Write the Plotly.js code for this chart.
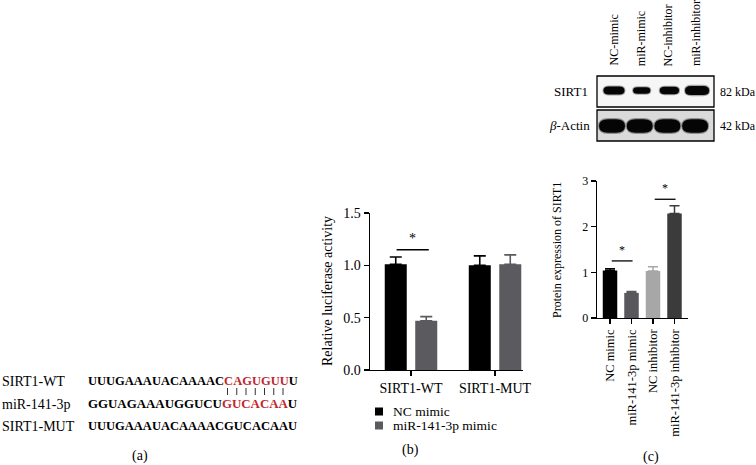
<!DOCTYPE html>
<html><head><meta charset="utf-8">
<script src="https://cdn.plot.ly/plotly-3.0.1.min.js"></script>
<style>html,body{margin:0;padding:0;background:#fff}#chart{width:756px;height:465px}</style>
</head><body><div id="chart"></div>
<script>
// ---------- Panel (b): luciferase ----------
const lucCategories = ['SIRT1-WT', 'SIRT1-MUT'];
const lucSeriesNames = ['NC mimic', 'miR-141-3p mimic'];
const lucNC = [1.01, 1.00];
const lucNCerr = [0.07, 0.09];
const lucMiR = [0.47, 1.01];
const lucMiRerr = [0.04, 0.09];
const lucSigPairs = [[0, 1.15]];           // category index, line level
// ---------- Panel (c): protein expression ----------
const protCategories = ['NC mimic', 'miR-141-3p mimic', 'NC inhibitor', 'miR-141-3p inhibitor'];
const protValues = [1.04, 0.55, 1.03, 2.29];
const protErr = [0.04, 0.03, 0.09, 0.17];
const protSigPairs = [[0, 1, 1.25], [2, 3, 2.6]];
// ---------- Western blot ----------
const blotLanes = ['NC-mimic', 'miR-mimic', 'NC-inhibitor', 'miR-inhibitor'];
const blotRows = ['SIRT1', 'β-Actin'];
const blotKDa = ['82 kDa', '42 kDa'];
const sirt1Band = [1.0, 0.82, 0.92, 1.15];
const actinBand = [1.0, 1.0, 1.0, 1.0];
// ---------- Panel (a): sequences ----------
const seqLabels = ['SIRT1-WT', 'miR-141-3p', 'SIRT1-MUT'];
const seqWT = ['UUUGAAAUACAAAAC', 'CAGUGUU', 'U'];
const seqMiR = ['GGUAGAAAUGGUCU', 'GUCACAA', 'U'];
const seqMUT = ['UUUGAAAUACAAAACGUCACAAU', '', ''];

const W = 756, H = 465;
const px = x => x / W, py = y => 1 - y / H;
const SERIF = 'Liberation Serif, Times New Roman, serif';
const RED = '#c0272d';
const lucColors = ['#000000', '#5a5a5f'];
const protColors = ['#000000', '#57575c', '#a7a7a7', '#3b3b3b'];

const traces = [];
// panel b bars
const lucVals = [lucNC, lucMiR], lucErrs = [lucNCerr, lucMiRerr];
const bw = 0.262, slot = 0.363;
lucSeriesNames.forEach((nm, i) => {
  traces.push({
    type: 'bar', name: nm, x: lucCategories, y: lucVals[i],
    xaxis: 'x', yaxis: 'y', width: bw, offset: (i === 0 ? -slot / 2 : slot / 2) - bw / 2,
    marker: {color: lucColors[i], line: {width: 0}},
    error_y: {type: 'data', symmetric: false, array: lucErrs[i], arrayminus: lucErrs[i].map(() => 0),
      color: lucColors[i], thickness: 1.6, width: 6},
    showlegend: false, hoverinfo: 'skip'
  });
});
// panel c bars
protCategories.forEach((c, i) => {
  traces.push({
    type: 'bar', name: c, x: [c], y: [protValues[i]], xaxis: 'x2', yaxis: 'y2', width: 0.674,
    marker: {color: protColors[i], line: {width: 0}},
    error_y: {type: 'data', symmetric: false, array: [protErr[i]], arrayminus: [0],
      color: protColors[i], thickness: 1.5, width: 5},
    showlegend: false, hoverinfo: 'skip'
  });
});

const shapes = [], annotations = [];
const ann = (o) => annotations.push(Object.assign({xref: 'paper', yref: 'paper', showarrow: false,
  font: {family: SERIF, size: 14, color: '#000'}}, o));

// ---- panel a
const seqRows = [seqWT, seqMiR, seqMUT];
const seqY = [381, 404, 426];
const seqSize = [12.5, 12.9, 12.5];
seqLabels.forEach((l, i) => {
  ann({x: px(0), y: py(seqY[i]), xanchor: 'left', yanchor: 'middle', text: l});
  const s = seqRows[i];
  const txt = '<b>' + s[0] + (s[1] ? '<span style="color:' + RED + '">' + s[1] + '</span>' : '') + s[2] + '</b>';
  ann({x: px(86), y: py(seqY[i]), xanchor: 'left', yanchor: 'middle', text: txt,
    font: {family: SERIF, size: seqSize[i], color: '#000'}});
});
// pairing ticks under seed
for (let k = 0; k < seqWT[1].length; k++) {
  const x = 227.5 + k * 9.25;
  shapes.push({type: 'line', xref: 'paper', yref: 'paper', x0: px(x), x1: px(x), y0: py(388), y1: py(395),
    line: {color: '#333', width: 1}});
}
ann({x: px(140), y: py(456), xanchor: 'center', yanchor: 'middle', text: '(a)'});

// ---- panel b extras
lucSigPairs.forEach(([ci, lvl]) => {
  shapes.push({type: 'line', xref: 'x', yref: 'y', x0: ci - slot / 2 + 0.01, x1: ci + slot / 2 + 0.03, y0: lvl, y1: lvl,
    line: {color: '#000', width: 1.5}});
  annotations.push({xref: 'x', yref: 'y', x: ci + 0.02, y: lvl + 0.02, text: '*', showarrow: false,
    yanchor: 'bottom', font: {family: SERIF, size: 14, color: '#000'}});
});
ann({x: px(327), y: py(291), textangle: -90, text: 'Relative luciferase activity', xanchor: 'center', yanchor: 'middle'});
lucSeriesNames.forEach((nm, i) => {
  const yc = 411.5 + i * 14;
  shapes.push({type: 'rect', xref: 'paper', yref: 'paper', x0: px(375), x1: px(383), y0: py(yc - 4), y1: py(yc + 4),
    fillcolor: lucColors[i], line: {width: 0}});
  ann({x: px(391), y: py(yc), xanchor: 'left', yanchor: 'middle', text: nm,
    font: {family: SERIF, size: 13.5, color: '#000'}});
});
ann({x: px(411), y: py(450), xanchor: 'center', yanchor: 'middle', text: '(b)'});

// ---- panel c extras
protSigPairs.forEach(([a, b, lvl]) => {
  shapes.push({type: 'line', xref: 'x2', yref: 'y2', x0: a + 0.08, x1: b + 0.05, y0: lvl, y1: lvl,
    line: {color: '#000', width: 1.3}});
  annotations.push({xref: 'x2', yref: 'y2', x: (a + b) / 2 + 0.05, y: lvl + 0.05, text: '*', showarrow: false,
    yanchor: 'bottom', font: {family: SERIF, size: 12, color: '#000'}});
});
ann({x: px(557), y: py(250), textangle: -90, text: 'Protein expression of SIRT1', xanchor: 'center', yanchor: 'middle',
  font: {family: SERIF, size: 12, color: '#000'}});
ann({x: px(651), y: py(457), xanchor: 'center', yanchor: 'middle', text: '(c)'});

// ---- western blot
const boxL = 597, boxR = 714;
const rowBox = [[76, 107, '#f6f6f6'], [110, 141, '#dadada']];
rowBox.forEach(([t, b, fc], r) => {
  shapes.push({type: 'rect', xref: 'paper', yref: 'paper', x0: px(boxL), x1: px(boxR), y0: py(b), y1: py(t),
    fillcolor: fc, line: {color: '#000', width: 1.3}, layer: 'below'});
  ann({x: px(r === 0 ? 590 : 592), y: py((t + b) / 2), xanchor: 'right', yanchor: 'middle',
    text: r === 0 ? blotRows[0] : '<i>β</i>-Actin', font: {family: SERIF, size: 13, color: '#000'}});
  ann({x: px(718), y: py((t + b) / 2), xanchor: 'left', yanchor: 'middle', text: blotKDa[r],
    font: {family: SERIF, size: 12, color: '#000'}});
});
function band(cx, cy, w, h, color, op) {
  const r = h / 2, rx = Math.min(r * 1.3, w / 2);
  const X = v => px(v).toFixed(5), Y = v => py(v).toFixed(5);
  const l = cx - w / 2, rr = cx + w / 2, t = cy - h / 2, b = cy + h / 2;
  const path = `M${X(l + rx)},${Y(t)} L${X(rr - rx)},${Y(t)} Q${X(rr)},${Y(t)} ${X(rr)},${Y(cy)} ` +
    `Q${X(rr)},${Y(b)} ${X(rr - rx)},${Y(b)} L${X(l + rx)},${Y(b)} Q${X(l)},${Y(b)} ${X(l)},${Y(cy)} ` +
    `Q${X(l)},${Y(t)} ${X(l + rx)},${Y(t)} Z`;
  shapes.push({type: 'path', xref: 'paper', yref: 'paper', path: path, fillcolor: color, opacity: op, line: {width: 0}});
}
const laneX = i => 613 + i * 27.7;
blotLanes.forEach((ln, i) => {
  ann({x: px(laneX(i)), y: py(68), xanchor: 'center', yanchor: 'bottom', textangle: -90, text: ln,
    font: {family: SERIF, size: 12, color: '#000'}});
  const s = sirt1Band[i];
  band(laneX(i) + 1, 90.5, 21 * s + 2, 9 * s + 1, '#555', 0.5);
  band(laneX(i) + 1, 90.5, 21 * s, 8 * s, '#050505', 1);
  const a = actinBand[i];
  band(laneX(i) - 1, 126, 26 * a + 2, 15 * a + 1, '#444', 0.5);
  band(laneX(i) - 1, 126, 26 * a, 13.5 * a, '#050505', 1);
});

const axisCommon = {showline: true, linecolor: '#000', linewidth: 1.4, ticks: 'outside', ticklen: 5,
  tickwidth: 1.4, tickcolor: '#000', showgrid: false, zeroline: false, fixedrange: true};
const layout = {
  width: W, height: H, margin: {l: 0, r: 0, t: 0, b: 0}, paper_bgcolor: '#fff', plot_bgcolor: 'rgba(0,0,0,0)',
  barmode: 'overlay', showlegend: false, font: {family: SERIF, color: '#000'},
  xaxis: Object.assign({}, axisCommon, {domain: [px(370), px(523)], anchor: 'y', type: 'category',
    range: [-0.488, 1.333], tickfont: {family: SERIF, size: 14, color: '#000'}}),
  yaxis: Object.assign({}, axisCommon, {domain: [py(370), py(213)], anchor: 'x', range: [0, 1.5],
    tickvals: [0, 0.5, 1, 1.5], ticktext: ['0.0', '0.5', '1.0', '1.5'], tickfont: {family: SERIF, size: 14, color: '#000'}}),
  xaxis2: Object.assign({}, axisCommon, {domain: [px(597), px(688)], anchor: 'y2', type: 'category',
    range: [-0.605, 3.628], tickangle: -90, tickfont: {family: SERIF, size: 12.5, color: '#000'}}),
  yaxis2: Object.assign({}, axisCommon, {domain: [py(318), py(181)], anchor: 'x2', range: [0, 3],
    tickvals: [0, 1, 2, 3], tickfont: {family: SERIF, size: 12, color: '#000'}}),
  shapes: shapes, annotations: annotations
};
Plotly.newPlot('chart', traces, layout, {staticPlot: true, displayModeBar: false});
</script></body></html>
